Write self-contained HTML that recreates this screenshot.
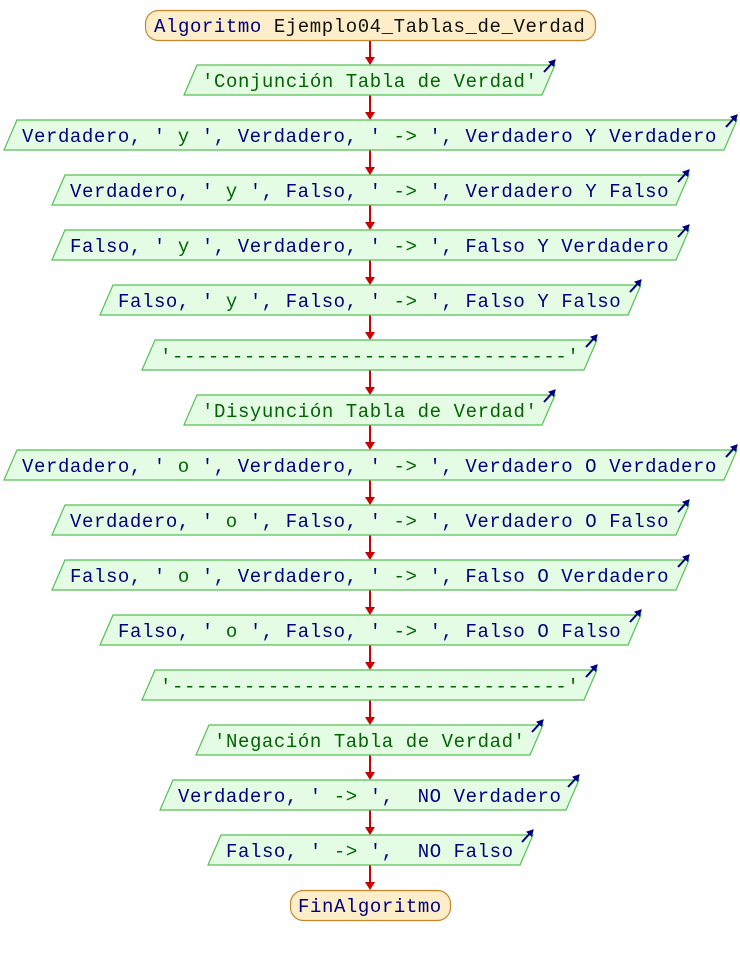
<!DOCTYPE html>
<html><head><meta charset="utf-8"><style>
html,body{margin:0;padding:0;background:#fff;}
svg{display:block;}
text{font-family:"Liberation Mono",monospace;font-size:19px;letter-spacing:0.58px;white-space:pre;}
.n{fill:#000080}.g{fill:#006400}.k{fill:#111}
</style></head><body>
<svg width="740" height="955" viewBox="0 0 740 955" xmlns="http://www.w3.org/2000/svg" xml:space="preserve">
<defs>
<marker id="ah" markerWidth="8" markerHeight="8" refX="6" refY="4" orient="auto" markerUnits="userSpaceOnUse"><path d="M0,0 L7,4 L0,8 z" fill="#000080"/></marker>
</defs>
<g stroke="#cc0000" stroke-width="2" fill="#cc0000">
<line x1="370" y1="40" x2="370" y2="60"/><path d="M365,57 L375,57 L370,65 z" stroke="none"/>
<line x1="370" y1="95" x2="370" y2="115"/><path d="M365,112 L375,112 L370,120 z" stroke="none"/>
<line x1="370" y1="150" x2="370" y2="170"/><path d="M365,167 L375,167 L370,175 z" stroke="none"/>
<line x1="370" y1="205" x2="370" y2="225"/><path d="M365,222 L375,222 L370,230 z" stroke="none"/>
<line x1="370" y1="260" x2="370" y2="280"/><path d="M365,277 L375,277 L370,285 z" stroke="none"/>
<line x1="370" y1="315" x2="370" y2="335"/><path d="M365,332 L375,332 L370,340 z" stroke="none"/>
<line x1="370" y1="370" x2="370" y2="390"/><path d="M365,387 L375,387 L370,395 z" stroke="none"/>
<line x1="370" y1="425" x2="370" y2="445"/><path d="M365,442 L375,442 L370,450 z" stroke="none"/>
<line x1="370" y1="480" x2="370" y2="500"/><path d="M365,497 L375,497 L370,505 z" stroke="none"/>
<line x1="370" y1="535" x2="370" y2="555"/><path d="M365,552 L375,552 L370,560 z" stroke="none"/>
<line x1="370" y1="590" x2="370" y2="610"/><path d="M365,607 L375,607 L370,615 z" stroke="none"/>
<line x1="370" y1="645" x2="370" y2="665"/><path d="M365,662 L375,662 L370,670 z" stroke="none"/>
<line x1="370" y1="700" x2="370" y2="720"/><path d="M365,717 L375,717 L370,725 z" stroke="none"/>
<line x1="370" y1="755" x2="370" y2="775"/><path d="M365,772 L375,772 L370,780 z" stroke="none"/>
<line x1="370" y1="810" x2="370" y2="830"/><path d="M365,827 L375,827 L370,835 z" stroke="none"/>
<line x1="370" y1="865" x2="370" y2="885"/><path d="M365,882 L375,882 L370,890 z" stroke="none"/>
</g>
<rect x="145.5" y="10.5" width="450" height="30" rx="13" fill="#fdedc8" stroke="#c8862e" stroke-width="1.2"/>
<text x="154" y="32"><tspan class="n">Algoritmo</tspan><tspan class="k"> Ejemplo04_Tablas_de_Verdad</tspan></text>
<rect x="290.5" y="890.5" width="160" height="30" rx="13" fill="#fdedc8" stroke="#c8862e" stroke-width="1.2"/>
<text x="298" y="912" class="n">FinAlgoritmo</text>
<g fill="#e4fce4" stroke="#55c055" stroke-width="1.2">
<polygon points="184,95 197,65 555,65 542,95"/>
<polygon points="4,150 17,120 737,120 724,150"/>
<polygon points="52,205 65,175 689,175 676,205"/>
<polygon points="52,260 65,230 689,230 676,260"/>
<polygon points="100,315 113,285 641,285 628,315"/>
<polygon points="142,370 155,340 597,340 584,370"/>
<polygon points="184,425 197,395 555,395 542,425"/>
<polygon points="4,480 17,450 737,450 724,480"/>
<polygon points="52,535 65,505 689,505 676,535"/>
<polygon points="52,590 65,560 689,560 676,590"/>
<polygon points="100,645 113,615 641,615 628,645"/>
<polygon points="142,700 155,670 597,670 584,700"/>
<polygon points="196,755 209,725 543,725 530,755"/>
<polygon points="160,810 173,780 579,780 566,810"/>
<polygon points="208,865 221,835 533,835 520,865"/>
</g>
<g stroke="#000080" stroke-width="2" marker-end="url(#ah)">
<line x1="544" y1="72" x2="555" y2="60"/>
<line x1="726" y1="127" x2="737" y2="115"/>
<line x1="678" y1="182" x2="689" y2="170"/>
<line x1="678" y1="237" x2="689" y2="225"/>
<line x1="630" y1="292" x2="641" y2="280"/>
<line x1="586" y1="347" x2="597" y2="335"/>
<line x1="544" y1="402" x2="555" y2="390"/>
<line x1="726" y1="457" x2="737" y2="445"/>
<line x1="678" y1="512" x2="689" y2="500"/>
<line x1="678" y1="567" x2="689" y2="555"/>
<line x1="630" y1="622" x2="641" y2="610"/>
<line x1="586" y1="677" x2="597" y2="665"/>
<line x1="532" y1="732" x2="543" y2="720"/>
<line x1="568" y1="787" x2="579" y2="775"/>
<line x1="522" y1="842" x2="533" y2="830"/>
</g>
<text x="202" y="87" class="g">'Conjunción Tabla de Verdad'</text>
<text x="22" y="142" class="n">Verdadero, '<tspan class="g"> y </tspan>', Verdadero, '<tspan class="g"> -&gt; </tspan>', Verdadero Y Verdadero</text>
<text x="70" y="197" class="n">Verdadero, '<tspan class="g"> y </tspan>', Falso, '<tspan class="g"> -&gt; </tspan>', Verdadero Y Falso</text>
<text x="70" y="252" class="n">Falso, '<tspan class="g"> y </tspan>', Verdadero, '<tspan class="g"> -&gt; </tspan>', Falso Y Verdadero</text>
<text x="118" y="307" class="n">Falso, '<tspan class="g"> y </tspan>', Falso, '<tspan class="g"> -&gt; </tspan>', Falso Y Falso</text>
<text x="160" y="362" class="g">'---------------------------------'</text>
<text x="202" y="417" class="g">'Disyunción Tabla de Verdad'</text>
<text x="22" y="472" class="n">Verdadero, '<tspan class="g"> o </tspan>', Verdadero, '<tspan class="g"> -&gt; </tspan>', Verdadero O Verdadero</text>
<text x="70" y="527" class="n">Verdadero, '<tspan class="g"> o </tspan>', Falso, '<tspan class="g"> -&gt; </tspan>', Verdadero O Falso</text>
<text x="70" y="582" class="n">Falso, '<tspan class="g"> o </tspan>', Verdadero, '<tspan class="g"> -&gt; </tspan>', Falso O Verdadero</text>
<text x="118" y="637" class="n">Falso, '<tspan class="g"> o </tspan>', Falso, '<tspan class="g"> -&gt; </tspan>', Falso O Falso</text>
<text x="160" y="692" class="g">'---------------------------------'</text>
<text x="214" y="747" class="g">'Negación Tabla de Verdad'</text>
<text x="178" y="802" class="n">Verdadero, '<tspan class="g"> -&gt; </tspan>',  NO Verdadero</text>
<text x="226" y="857" class="n">Falso, '<tspan class="g"> -&gt; </tspan>',  NO Falso</text>
</svg>
</body></html>
